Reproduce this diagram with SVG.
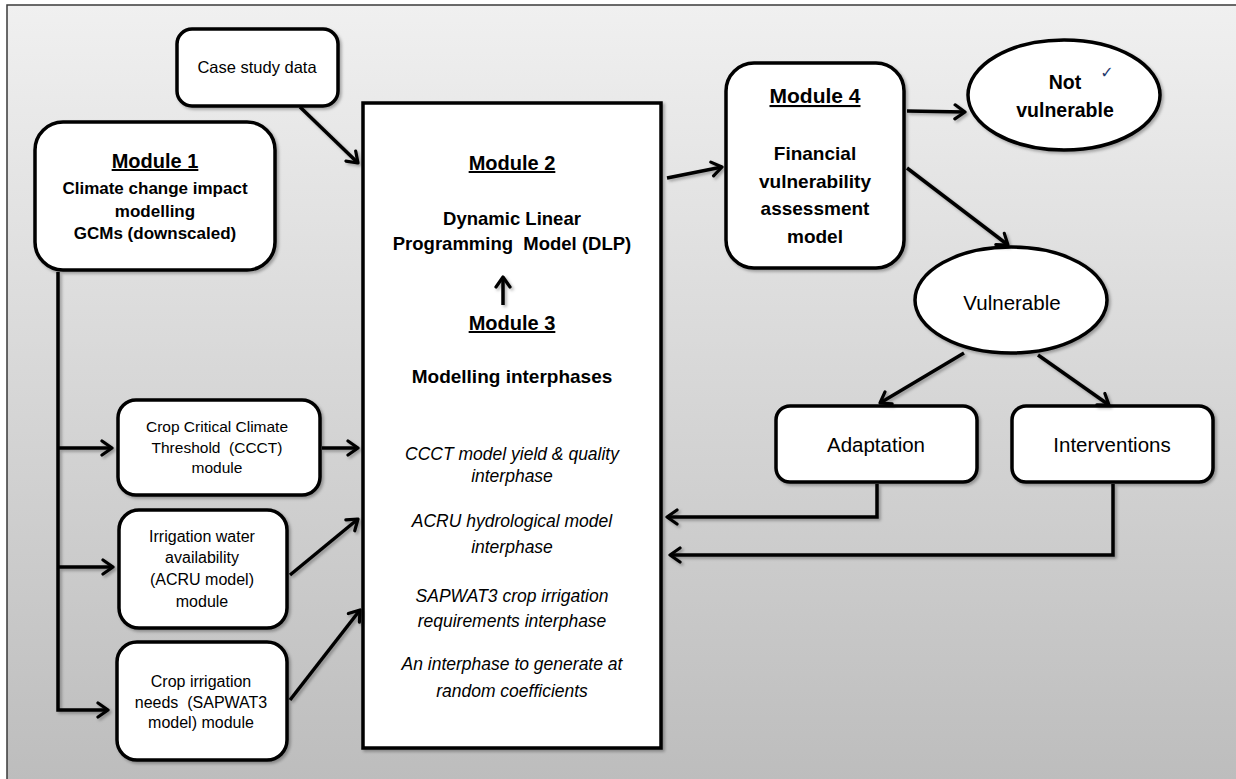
<svg xmlns="http://www.w3.org/2000/svg" width="1236" height="779" viewBox="0 0 1236 779">
  <defs>
    <linearGradient id="bg" x1="0" y1="0" x2="0" y2="1">
      <stop offset="0" stop-color="#f0f0f0"/>
      <stop offset="1" stop-color="#bcbcbc"/>
    </linearGradient>
    <filter id="sh" filterUnits="userSpaceOnUse" x="0" y="0" width="1236" height="779">
      <feDropShadow dx="2" dy="2" stdDeviation="1.5" flood-color="#000" flood-opacity="0.3"/>
    </filter>
    <marker id="arr" viewBox="0 0 14 18" refX="12" refY="9" markerWidth="14" markerHeight="18" markerUnits="userSpaceOnUse" orient="auto">
      <path d="M2,2 L12,9 L2,16" fill="none" stroke="#000" stroke-width="3.2" stroke-linecap="round" stroke-linejoin="round"/>
    </marker>
    <style>
      .box { fill: #fff; stroke: #000; stroke-width: 3.5; filter: url(#sh); }
      .ln { fill: none; stroke: #000; stroke-width: 3.5; marker-end: url(#arr); }
      text { font-family: "Liberation Sans", Arial, sans-serif; fill: #000; text-anchor: middle; }
      .b { font-weight: bold; }
      .hd { font-weight: bold; font-size: 20px; text-decoration: underline; }
      .it { font-style: italic; font-size: 17.5px; }
      .sm { font-size: 16px; }
    </style>
  </defs>

  <rect x="0" y="0" width="1236" height="779" fill="#fff"/>
  <rect x="7" y="5" width="1240" height="790" fill="url(#bg)" stroke="#3a3a3a" stroke-width="1.5"/>

  <g id="case-study">
    <rect class="box" x="177" y="29" width="161" height="77" rx="15"/>
    <text x="257" y="73" style="font-size:16.5px">Case study data</text>
  </g>

  <g id="module1">
    <rect class="box" x="35" y="122" width="240" height="148" rx="28"/>
    <text class="hd" x="155" y="168">Module 1</text>
    <text class="b" x="155" y="194" style="font-size:17px">Climate change impact</text>
    <text class="b" x="155" y="217" style="font-size:17px">modelling</text>
    <text class="b" x="155" y="239" style="font-size:17px">GCMs (downscaled)</text>
  </g>

  <g id="module2-3">
    <rect class="box" x="363" y="103" width="298" height="645"/>
    <text class="hd" x="512" y="170">Module 2</text>
    <text class="b" x="512" y="225" style="font-size:18.5px">Dynamic Linear</text>
    <text class="b" x="512" y="250" style="font-size:18.5px" xml:space="preserve">Programming  Model (DLP)</text>
    <text class="hd" x="512" y="330">Module 3</text>
    <text class="b" x="512" y="383" style="font-size:19px">Modelling interphases</text>
    <text class="it" x="512" y="460">CCCT model yield &amp; quality</text>
    <text class="it" x="512" y="482">interphase</text>
    <text class="it" x="512" y="527">ACRU hydrological model</text>
    <text class="it" x="512" y="553">interphase</text>
    <text class="it" x="512" y="602">SAPWAT3 crop irrigation</text>
    <text class="it" x="512" y="627">requirements interphase</text>
    <text class="it" x="512" y="670">An interphase to generate at</text>
    <text class="it" x="512" y="697">random coefficients</text>
  </g>

  <g id="ccct">
    <rect class="box" x="118" y="400" width="202" height="95" rx="18"/>
    <text x="217" y="432" style="font-size:15.5px">Crop Critical Climate</text>
    <text x="217" y="453" style="font-size:15.5px" xml:space="preserve">Threshold  (CCCT)</text>
    <text x="217" y="473" style="font-size:15.5px">module</text>
  </g>

  <g id="irrigation-water">
    <rect class="box" x="119" y="510" width="168" height="118" rx="20"/>
    <text class="sm" x="202" y="542">Irrigation water</text>
    <text class="sm" x="202" y="563">availability</text>
    <text class="sm" x="202" y="585">(ACRU model)</text>
    <text class="sm" x="202" y="607">module</text>
  </g>

  <g id="crop-irrigation">
    <rect class="box" x="117" y="642" width="170" height="118" rx="20"/>
    <text class="sm" x="201" y="687">Crop irrigation</text>
    <text class="sm" x="201" y="708" xml:space="preserve">needs  (SAPWAT3</text>
    <text class="sm" x="201" y="728">model) module</text>
  </g>

  <g id="module4">
    <rect class="box" x="726" y="63" width="178" height="205" rx="28"/>
    <text class="hd" x="815" y="103" style="font-size:21px">Module 4</text>
    <text class="b" x="815" y="160" style="font-size:19px">Financial</text>
    <text class="b" x="815" y="188" style="font-size:19px">vulnerability</text>
    <text class="b" x="815" y="215" style="font-size:19px">assessment</text>
    <text class="b" x="815" y="243" style="font-size:19px">model</text>
  </g>

  <g id="not-vulnerable">
    <ellipse class="box" cx="1064" cy="95" rx="96" ry="55"/>
    <text class="b" x="1065" y="89" style="font-size:19.5px">Not</text>
    <text class="b" x="1065" y="117" style="font-size:19.5px">vulnerable</text>
    <text x="1107" y="78" style="font-size:16px;fill:#1f3a6e;font-family:'DejaVu Sans',sans-serif">✓</text>
  </g>

  <g id="vulnerable">
    <ellipse class="box" cx="1011" cy="300" rx="96" ry="53"/>
    <text x="1012" y="310" style="font-size:20.5px">Vulnerable</text>
  </g>

  <g id="adaptation">
    <rect class="box" x="776" y="406" width="201" height="76" rx="14"/>
    <text x="876" y="452" style="font-size:20.5px">Adaptation</text>
  </g>

  <g id="interventions">
    <rect class="box" x="1012" y="406" width="201" height="76" rx="14"/>
    <text x="1112" y="452" style="font-size:20.5px">Interventions</text>
  </g>

  <g id="connectors" filter="url(#sh)">
    <path class="ln" d="M300,107 L358,163"/>
    <path class="ln" d="M58,272 V710 H108"/>
    <path class="ln" d="M58,448 H112"/>
    <path class="ln" d="M58,567 H113"/>
    <path class="ln" d="M322,448 H358"/>
    <path class="ln" d="M290,575 L358,519"/>
    <path class="ln" d="M290,700 L360,610"/>
    <path class="ln" d="M503,305 V277"/>
    <path class="ln" d="M667,178 L722,167"/>
    <path class="ln" d="M907,111 L965,112"/>
    <path class="ln" d="M907,168 L1008,245"/>
    <path class="ln" d="M964,353 L880,403"/>
    <path class="ln" d="M1038,355 L1109,405"/>
    <path class="ln" d="M877,484 V517 H667"/>
    <path class="ln" d="M1113,484 V555 H670"/>
  </g>
</svg>
